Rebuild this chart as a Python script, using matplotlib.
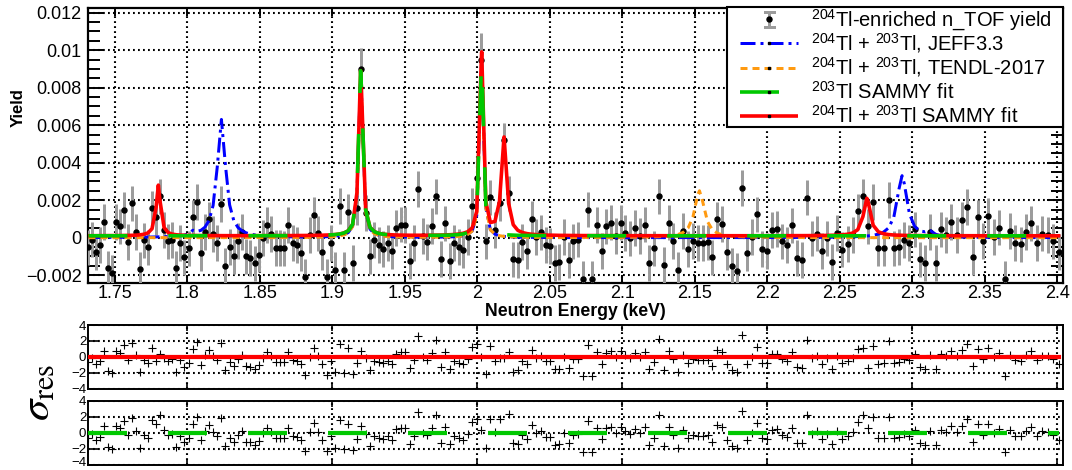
import numpy as np
import matplotlib
matplotlib.use("Agg")
import matplotlib.pyplot as plt
from matplotlib.lines import Line2D
from matplotlib.patches import Rectangle
from matplotlib.transforms import ScaledTranslation
from matplotlib.ticker import MultipleLocator, FuncFormatter, FixedLocator

plt.rcParams['font.family'] = ['Liberation Sans', 'DejaVu Sans']
plt.rcParams['mathtext.fontset'] = 'custom'
plt.rcParams['mathtext.rm'] = 'Liberation Sans'
plt.rcParams['mathtext.it'] = 'Liberation Sans:italic'
plt.rcParams['mathtext.bf'] = 'Liberation Sans:bold'
plt.rcParams['lines.scale_dashes'] = False

# ---------------------------------------------------------------- data
# measured capture yield on a logarithmic time-of-flight binning
e_first, e_last, n_bins = 1.7318, 2.4008, 210
yield_vals = [
    -0.00052, -0.0001, -0.00075, -0.0004, 0.00085, -0.00164, -0.00187, 0.00085, 0.0006, 0.00147,
    -0.00022, 0.00183, 0.0003, -0.00169, -0.00015, -0.00052, 0.00156, 0.0011, 0.0022, 0.0004,
    -0.0002, -0.00013, -0.00164, -0.0003, -0.00105, -0.00057, 0.00108, 0.00191, -0.00084, 0.00031,
    0.00097, 0.0002, -0.0003, 0.00179, -0.0015, -0.0005, -0.001, -0.00018, 0.0003, -0.001,
    -0.00107, -0.00137, -0.0009, 0.0, 0.00067, 0.0002, -0.00054, -0.00054, -0.00057, 0.00067,
    -0.0003, -0.0004, -0.0008, -0.0021, 0.00014, 0.0012, 0.00023, -0.00075, -0.0021, -0.0003,
    -0.0017, 0.0017, -0.0017, 0.00138, -0.00134, 0.0016, 0.00897, 0.0013, -0.001, -0.00013,
    -0.0004, -0.0006, -0.0003, -0.0007, 0.0005, 0.0007, 0.00067, -0.00125, -0.0003, 0.0026,
    0.0001, -0.00022, 0.00063, 0.0022, -0.00114, 0.00076, -0.00125, -0.0003, -0.0005, -0.00066,
    0.00005, 0.0017, 0.0032, 0.00947, -0.0002, 0.00215, 0.0004, 0.00183, 0.0052, 0.00236,
    -0.00116, -0.0012, -0.00022, -0.0007, 0.001, 0.00005, 0.00028, -0.0004, -0.00043, -0.00134,
    -0.0013, 0.00005, -0.0012, -0.0002, -0.0001, -0.00218, 0.0015, -0.00218, 0.00067, -0.0007,
    0.0006, 0.0008, 0.0001, 0.0008, 0.00026, -0.00004, 0.0005, 0.0001, 0.0007, -0.00134,
    -0.00057, 0.0022, -0.00146, 0.0008, -0.00018, -0.00173, 0.00037, -0.0006, -0.00017, -0.00027,
    -0.00027, -0.00025, -0.00105, 0.00097, 0.00073, -0.00076, -0.00152, -0.00177, 0.00266, -0.0008,
    0.00005, 0.00124, -0.0006, -0.0007, 0.0004, 0.00047, -0.0002, -0.0004, 0.00065, -0.0011,
    -0.0012, 0.00214, -0.00004, 0.00022, -0.0007, -0.00004, -0.00129, 0.00026, -0.00063, -0.00034,
    0.00014, 0.0014, 0.0022, 0.0006, 0.0019, -0.00057, -0.00057, 0.002, -0.00057, -0.00049,
    -0.00013, -0.00027, 0.00044, -0.00116, -0.00134, 0.00032, -0.00134, 0.00044, 0.00014, 0.00084,
    0.00014, 0.00093, 0.00165, -0.00102, 0.00108, -0.00016, 0.00115, 0.00005, 0.00054, -0.00218,
    0.00035, -0.0003, -0.00036, 0.00032, 0.00076, -0.0003, 0.00022, 0.00014, -0.0002, -0.00076,
]
yield_unc = 0.00095
yield_unc_peaks = {66: 0.00113, 92: 0.0011, 93: 0.00144, 98: 0.0009}

# resonance curves: energies (keV), heights and widths (FWHM, keV)
baseline = 0.0001
sammy_total_E = [1.7800, 1.9195, 2.0030, 2.0184, 2.2686]
sammy_total_h = [0.0027, 0.0088, 0.0097, 0.0052, 0.0020]
sammy_total_w = [0.0035, 0.0030, 0.0026, 0.0044, 0.0055]
sammy_203_E = [1.9195, 2.0030]
sammy_203_h = [0.0088, 0.0093]
sammy_203_w = [0.0030, 0.0026]
jeff_E = [1.8040, 1.8235, 1.9195, 2.0030, 2.2929, 2.3120]
jeff_h = [0.0002, 0.0063, 0.0087, 0.0093, 0.0033, 0.00025]
jeff_w = [0.0040, 0.0070, 0.0030, 0.0026, 0.0080, 0.0060]
tendl_E = [1.9195, 2.0030, 2.1532]
tendl_h = [0.0086, 0.0092, 0.0025]
tendl_w = [0.0030, 0.0026, 0.0080]

x_ticks = [1.75, 1.8, 1.85, 1.9, 1.95, 2.0, 2.05, 2.1, 2.15, 2.2, 2.25, 2.3, 2.35, 2.4]
res_ticks = [-4, -2, 0, 2, 4]

legend_labels = [r'$^{204}$Tl-enriched n_TOF yield',
                 r'$^{204}$Tl + $^{203}$Tl, JEFF3.3',
                 r'$^{204}$Tl + $^{203}$Tl, TENDL-2017',
                 r'$^{203}$Tl SAMMY fit',
                 r'$^{204}$Tl + $^{203}$Tl SAMMY fit']

# ---------------------------------------------------------------- model
energy = np.geomspace(e_first, e_last, n_bins)
y = np.array(yield_vals)
yerr = np.full(n_bins, yield_unc)
for i, v in yield_unc_peaks.items():
    yerr[i] = v


def resonances(e, centers, heights, widths, base=0.0):
    out = np.full_like(e, base, dtype=float)
    for c, h, w in zip(centers, heights, widths):
        out += h / (1.0 + ((e - c) / (0.5 * w)) ** 2)
    return out


def grid_for(centers):
    return np.union1d(energy, centers)


e_tot = grid_for(sammy_total_E)
e_203 = grid_for(sammy_203_E)
e_jeff = grid_for(jeff_E)
e_tendl = grid_for(tendl_E)
c_tot = resonances(e_tot, sammy_total_E, sammy_total_h, sammy_total_w, baseline)
c_203 = resonances(e_203, sammy_203_E, sammy_203_h, sammy_203_w, baseline)
c_jeff = resonances(e_jeff, jeff_E, jeff_h, jeff_w)
c_tendl = resonances(e_tendl, tendl_E, tendl_h, tendl_w)

res_tot = (y - resonances(energy, sammy_total_E, sammy_total_h, sammy_total_w, baseline)) / yerr
res_203 = (y - resonances(energy, sammy_203_E, sammy_203_h, sammy_203_w, baseline)) / yerr

# ---------------------------------------------------------------- styles
W, H = 1072, 470
PX = 0.72  # points per pixel at 100 dpi
RED, GREEN, BLUE, ORANGE, GREY = '#ff0000', '#00c800', '#0000ff', '#ff9a10', '#9c9c9c'
green_dash = (0, (39 * PX, 41 * PX))
blue_dash = (0, (15 * PX, 5 * PX, 3 * PX, 5 * PX))
orange_dash = (0, (7 * PX, 5 * PX))
grid_kw = dict(color='black', linestyle=(0, (1.3, 2.3)), linewidth=1.5)
xlim = (1.7317, 2.4039)

fig = plt.figure(figsize=(W / 100, H / 100), dpi=100)


def fx(px):
    return px / W


def fy(py):
    return 1 - py / H


def frac(l, t, r, b):
    return [fx(l), fy(b), (r - l) / W, (b - t) / H]


ax = fig.add_axes(frac(88.3, 8.3, 1063, 282.7))
ax_r1 = fig.add_axes(frac(88.3, 325.0, 1063, 388.5))
ax_r2 = fig.add_axes(frac(88.3, 400.5, 1063, 464.5))

# ---------------------------------------------------------------- main panel
ax.errorbar(energy, y, yerr=yerr, fmt='o', color='black', ms=5 * PX,
            ecolor=GREY, elinewidth=3 * PX, capsize=0, zorder=3)
ax.plot(e_jeff, c_jeff, color=BLUE, lw=3 * PX, linestyle=blue_dash, zorder=4)
ax.plot(e_tendl, c_tendl, color=ORANGE, lw=3 * PX, linestyle=orange_dash, zorder=4)
ax.plot(e_tot, c_tot, color=RED, lw=3.6 * PX, zorder=5)
ax.plot(e_203, c_203, color=GREEN, lw=3.6 * PX, linestyle=green_dash, zorder=6)

ax.set_xlim(*xlim)
ax.set_ylim(-0.0024, 0.01223)
ax.set_xticks(x_ticks)
ax.xaxis.set_major_formatter(FuncFormatter(lambda v, p: '%g' % round(v, 4)))
ax.yaxis.set_major_locator(MultipleLocator(0.002))
ax.yaxis.set_minor_locator(MultipleLocator(0.0005))
ax.yaxis.set_major_formatter(
    FuncFormatter(lambda v, p: ('%g' % round(v, 6)).replace('-', '\u2212')))
ax.tick_params(axis='both', which='major', direction='in', labelsize=13, width=1.4)
ax.tick_params(axis='y', which='major', length=16 * PX, pad=4.7, left=True, right=True)
ax.tick_params(axis='y', which='minor', direction='in', length=12 * PX, width=1.4,
               left=True, right=True)
ax.tick_params(axis='x', which='major', length=8 * PX, pad=1.6, top=True, bottom=True)
ax.grid(True, which='major', **grid_kw)
for s in ax.spines.values():
    s.set_linewidth(1.6)
ax.set_axisbelow(False)

fig.text(fx(575.6), fy(311.5), 'Neutron Energy (keV)', ha='center', va='center',
         fontsize=12.7, fontweight='bold')
fig.text(fx(18.5), fy(108), 'Yield', ha='center', va='center', rotation=90,
         fontsize=12, fontweight='bold')

# ---------------------------------------------------------------- legend box
fig.patches.append(Rectangle((fx(727), fy(127)), (1063 - 727) / W, 120 / H,
                             transform=fig.transFigure, facecolor='white',
                             edgecolor='black', linewidth=1.5, zorder=20))
row_y = [19, 43, 67.5, 92, 116]
h_l, h_r, h_c = 740, 798, 769


def fig_line(xs, ys, **kw):
    fig.add_artist(Line2D([fx(v) for v in xs], [fy(v) for v in ys],
                          transform=fig.transFigure, zorder=21, **kw))


# data entry: grey bar with caps and a black dot
yr = row_y[0]
fig_line([h_c, h_c], [yr - 7.5, yr + 7.5], color=GREY, lw=3 * PX, solid_capstyle='butt')
fig_line([h_c - 4.5, h_c + 4.5], [yr - 7.5, yr - 7.5], color=GREY, lw=3 * PX)
fig_line([h_c - 4.5, h_c + 4.5], [yr + 7.5, yr + 7.5], color=GREY, lw=3 * PX)
fig_line([h_c], [yr], marker='o', ms=5 * PX, color='black', linestyle='none')
# curve entries
entry_styles = [dict(color=BLUE, lw=3 * PX, linestyle=blue_dash),
                dict(color=ORANGE, lw=3 * PX, linestyle=orange_dash),
                dict(color=GREEN, lw=3.6 * PX, linestyle=green_dash),
                dict(color=RED, lw=3.6 * PX)]
for yr, st in zip(row_y[1:], entry_styles):
    fig_line([h_l, h_r], [yr, yr], solid_capstyle='butt', dash_capstyle='butt', **st)
    fig_line([h_c], [yr], marker='s', ms=2, color='black', linestyle='none')
for yr, lab in zip(row_y, legend_labels):
    fig.text(fx(811), fy(yr + 7.2), lab, ha='left', va='baseline', fontsize=14.5, zorder=22)

# ---------------------------------------------------------------- residual panels
for axr, res, col, ls in ((ax_r1, res_tot, RED, '-'), (ax_r2, res_203, GREEN, green_dash)):
    axr.plot(energy, res, linestyle='none', marker='+', ms=8 * PX, mew=1.1 * PX,
             color='black', zorder=3)
    axr.plot([energy[0], energy[-1]], [0, 0], color=col, lw=4.2 * PX, linestyle=ls, zorder=4)
    axr.set_xlim(*xlim)
    axr.set_ylim(-4, 4)
    axr.xaxis.set_major_locator(MultipleLocator(0.1))
    axr.yaxis.set_major_locator(FixedLocator(res_ticks))
    axr.tick_params(axis='x', which='major', direction='in', length=6 * PX, width=1.2,
                    labelbottom=False, top=True, bottom=True)
    axr.tick_params(axis='y', which='major', direction='in', length=10 * PX, width=1.2,
                    labelsize=9.5, pad=1.5)
    axr.yaxis.set_major_formatter(FuncFormatter(lambda v, p: ('%d' % v).replace('-', '\u2212')))
    axr.grid(True, which='major', **grid_kw)
    for s in axr.spines.values():
        s.set_linewidth(1.4)

# keep the lowest residual label inside the canvas: nudge it up a little
fig.canvas.draw()
low_label = ax_r2.yaxis.get_major_ticks()[0].label1
low_label.set_transform(low_label.get_transform() + ScaledTranslation(0, 0.035, fig.dpi_scale_trans))

fig.text(fx(38), fy(392), r'$\sigma_{\rm res}$', ha='center', va='center', rotation=90,
         fontsize=31, math_fontfamily='stix')

fig.savefig('out.png', dpi=100)
